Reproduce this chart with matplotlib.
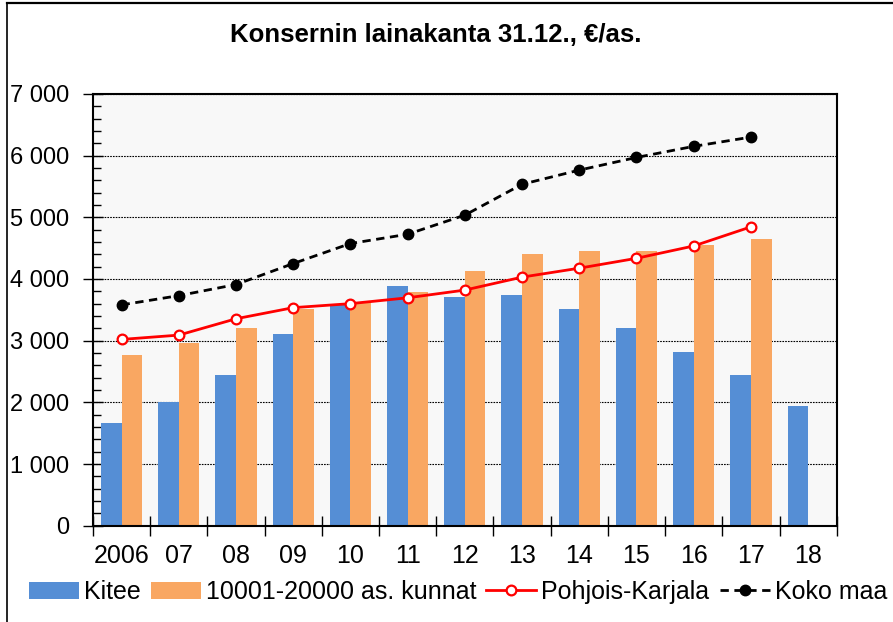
import matplotlib.pyplot as plt
from matplotlib.lines import Line2D
import numpy as np

plt.rcParams['font.family'] = ['Liberation Sans', 'DejaVu Sans']

years = ['2006', '07', '08', '09', '10', '11', '12', '13', '14', '15', '16', '17', '18']
kitee = [1670, 2005, 2440, 3110, 3595, 3890, 3700, 3740, 3520, 3205, 2820, 2450, 1945]
kunnat = [2765, 2970, 3210, 3510, 3615, 3790, 4130, 4410, 4455, 4455, 4555, 4650, np.nan]
pohjois_karjala = [3020, 3090, 3355, 3535, 3600, 3695, 3820, 4030, 4175, 4335, 4535, 4845, np.nan]
koko_maa = [3580, 3730, 3910, 4250, 4575, 4725, 5035, 5535, 5765, 5970, 6150, 6300, np.nan]

blue = '#558ED5'
orange = '#F9A762'

fig = plt.figure(figsize=(8.93, 6.22), dpi=100)
ax = fig.add_axes([0.1041, 0.1548, 0.8329, 0.6942])
ax.set_facecolor('#F8F8F8')

x = np.arange(len(years))
w = 0.36
b1 = ax.bar(x - w / 2, kitee, w, color=blue, zorder=2, label='Kitee')
b2 = ax.bar(x + w / 2, kunnat, w, color=orange, zorder=2, label='10001-20000 as. kunnat')
l1, = ax.plot(x, pohjois_karjala, color='#FF0000', lw=2, marker='o', ms=7,
              mfc='white', mec='#FF0000', mew=1.6, zorder=4, label='Pohjois-Karjala')
l2, = ax.plot(x, koko_maa, color='black', lw=2, ls=(0, (3, 2)), marker='o', ms=7.5,
              mfc='black', mec='black', zorder=4, label='Koko maa')

ax.set_xlim(-0.5, len(years) - 0.5)
ax.set_ylim(0, 7000)

ax.set_yticks(range(0, 7001, 1000))
ax.set_yticklabels([f'{v:,}'.replace(',', ' ') for v in range(0, 7001, 1000)])
ax.set_yticks(range(0, 7001, 200), minor=True)
ax.yaxis.grid(True, which='major', color='black', ls=(0, (1.5, 1)), lw=0.8, zorder=1)

ax.set_xticks(np.arange(-0.5, len(years), 1.0))
ax.set_xticklabels([])
ax.set_xticks(x, minor=True)
ax.set_xticklabels(years, minor=True)

ax.tick_params(axis='y', which='major', direction='inout', length=14, width=1, labelsize=17, pad=10)
ax.tick_params(axis='y', which='minor', direction='in', length=6, width=1)
ax.tick_params(axis='x', which='major', direction='inout', length=14, width=1)
ax.tick_params(axis='x', which='minor', length=0, labelsize=18, pad=13)

for s in ax.spines.values():
    s.set_linewidth(1.5)
    s.set_color('black')

fig.text(0.488, 0.944, 'Konsernin lainakanta 31.12., €/as.', ha='center', va='center',
         fontsize=18.5, fontweight='bold')

fig.legend([b1, b2, l1, l2], [h.get_label() for h in (b1, b2, l1, l2)],
           loc='center', bbox_to_anchor=(0.513, 0.048), ncol=4,
           frameon=False, fontsize=18, handlelength=2.0, handletextpad=0.2,
           columnspacing=0.4, borderaxespad=0)

# outer frame
fig.add_artist(Line2D([6.5 / 893, 6.5 / 893], [0, 1 - 2.5 / 622], color='black', lw=1.2,
                      transform=fig.transFigure))
fig.add_artist(Line2D([6.5 / 893, 1], [1 - 2.5 / 622, 1 - 2.5 / 622], color='black', lw=1.6,
                      transform=fig.transFigure))

fig.savefig('out.png', dpi=100)
